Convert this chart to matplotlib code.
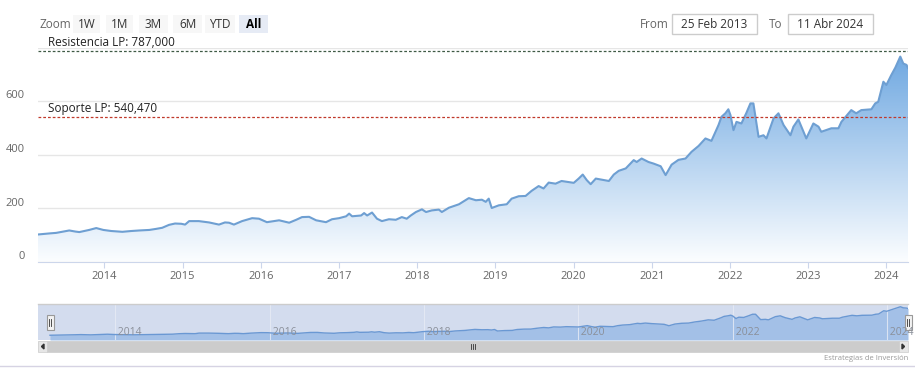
import numpy as np
import matplotlib
matplotlib.use("Agg")
import matplotlib.pyplot as plt
import matplotlib.dates as mdates
import matplotlib.transforms as mtrans
from matplotlib.colors import LinearSegmentedColormap
from matplotlib.patches import Rectangle, Polygon
from matplotlib.lines import Line2D

plt.rcParams['font.family'] = ['Open Sans', 'DejaVu Sans']

# price series
dates = np.array([
    '2013-02-25', '2013-03-22', '2013-04-20', '2013-05-21', '2013-06-23', '2013-07-21',
    '2013-08-18', '2013-09-06', '2013-10-22', '2013-11-24', '2013-12-27', '2014-02-02',
    '2014-03-26', '2014-05-07', '2014-06-13', '2014-07-30', '2014-08-31', '2014-09-28',
    '2014-10-30', '2014-11-27', '2014-12-26', '2015-01-13', '2015-02-01', '2015-03-18',
    '2015-05-05', '2015-06-20', '2015-07-18', '2015-08-06', '2015-08-29', '2015-10-06',
    '2015-11-22', '2015-12-24', '2016-01-30', '2016-03-27', '2016-05-13', '2016-06-15',
    '2016-07-12', '2016-08-14', '2016-09-16', '2016-11-01', '2016-11-29', '2017-01-01',
    '2017-02-03', '2017-02-17', '2017-03-03', '2017-04-14', '2017-04-28', '2017-05-12',
    '2017-06-04', '2017-06-27', '2017-07-20', '2017-08-22', '2017-09-23', '2017-10-21',
    '2017-11-13', '2017-12-02', '2017-12-26', '2018-01-23', '2018-02-11', '2018-03-10',
    '2018-04-12', '2018-04-26', '2018-05-29', '2018-07-15', '2018-08-30', '2018-10-02',
    '2018-10-30', '2018-11-17', '2018-12-01', '2018-12-15', '2019-01-17', '2019-02-23',
    '2019-03-18', '2019-04-20', '2019-05-22', '2019-06-19', '2019-07-22', '2019-08-14',
    '2019-09-07', '2019-10-09', '2019-11-06', '2019-12-09', '2020-01-02', '2020-01-25',
    '2020-02-13', '2020-03-03', '2020-03-21', '2020-04-14', '2020-05-12', '2020-06-14',
    '2020-07-07', '2020-07-30', '2020-09-01', '2020-10-08', '2020-10-22', '2020-11-14',
    '2020-12-16', '2021-01-09', '2021-02-11', '2021-03-06', '2021-04-03', '2021-05-05',
    '2021-06-07', '2021-07-05', '2021-08-07', '2021-09-08', '2021-10-06', '2021-11-08',
    '2021-11-22', '2021-12-10', '2021-12-24', '2022-01-03', '2022-01-17', '2022-01-31',
    '2022-02-23', '2022-03-18', '2022-04-06', '2022-04-20', '2022-05-14', '2022-06-06',
    '2022-06-20', '2022-07-23', '2022-08-15', '2022-09-08', '2022-10-10', '2022-10-24',
    '2022-11-16', '2022-11-30', '2022-12-23', '2023-01-25', '2023-02-18', '2023-03-03',
    '2023-04-19', '2023-05-22', '2023-06-05', '2023-07-21', '2023-08-13', '2023-09-06',
    '2023-10-23', '2023-11-10', '2023-11-24', '2023-12-18', '2024-01-01', '2024-01-24',
    '2024-02-12', '2024-03-06', '2024-03-20', '2024-04-04', '2024-04-11'], dtype='datetime64[D]')
values = np.array([
    101, 103, 105, 107, 112, 116,
    112, 110, 118, 125, 118, 114,
    111, 114, 116, 118, 122, 126,
    137, 142, 141, 138, 151, 151,
    146, 138, 146, 145, 138, 151,
    162, 160, 147, 154, 145, 156,
    166, 167, 154, 147, 158, 162,
    169, 179, 169, 172, 181, 172,
    183, 160, 151, 158, 156, 166,
    160, 172, 185, 195, 185, 191,
    194, 185, 201, 214, 237, 229,
    231, 223, 235, 200, 210, 214,
    235, 244, 245, 264, 282, 273,
    295, 291, 301, 297, 294, 310,
    325, 304, 289, 310, 306, 301,
    325, 339, 348, 379, 372, 385,
    372, 366, 356, 323, 362, 380,
    385, 410, 432, 460, 451, 510,
    541, 554, 569, 547, 491, 522,
    516, 555, 591, 591, 466, 472,
    460, 535, 554, 510, 472, 504,
    531, 504, 460, 516, 504, 485,
    498, 498, 522, 566, 554, 566,
    569, 591, 597, 672, 660, 697,
    725, 766, 740, 735, 723])

resistance = 787.0
support = 540.47
resistance_label = 'Resistencia LP: 787,000'
support_label = 'Soporte LP: 540,470'
y_ticks = [0, 200, 400, 600, 800]
x_years = list(range(2014, 2025))
nav_years = list(range(2014, 2025, 2))
zoom_buttons = ['1W', '1M', '3M', '6M', 'YTD', 'All']
from_text = '25 Feb 2013'
to_text = '11 Abr 2024'

W, H = 915, 385
fig = plt.figure(figsize=(W / 100, H / 100), dpi=100)
fig.patch.set_facecolor('white')


def fx(x):
    return x / W


def fy(y):
    return 1 - y / H


def box(x0, y0, x1, y1, **kw):
    r = Rectangle((fx(x0), fy(y1)), (x1 - x0) / W, (y1 - y0) / H,
                  transform=fig.transFigure, **kw)
    fig.add_artist(r)
    return r


def hline(x0, x1, y, **kw):
    fig.add_artist(Line2D([fx(x0), fx(x1)], [fy(y), fy(y)], transform=fig.transFigure, **kw))


def vline(x, y0, y1, **kw):
    fig.add_artist(Line2D([fx(x), fx(x)], [fy(y0), fy(y1)], transform=fig.transFigure, **kw))


# ---- range selector
fig.text(fx(39), fy(24), 'Zoom', fontsize=8.5, color='#666666', va='center', ha='left')
btn_x = [(73, 100), (106, 133), (139, 168), (173, 202), (205, 235), (239, 268)]
for lab, (a, b) in zip(zoom_buttons, btn_x):
    sel = lab == 'All'
    box(a, 15, b, 33, facecolor='#e6ebf5' if sel else '#f7f7f7', edgecolor='none')
    fig.text(fx((a + b) / 2), fy(24), lab, fontsize=8.5, ha='center', va='center',
             color='#000000' if sel else '#333333', fontweight='bold' if sel else 'normal')

fig.text(fx(640), fy(24), 'From', fontsize=8.5, color='#666666', va='center', ha='left')
box(672, 14, 757, 34, facecolor='white', edgecolor='#cccccc', lw=1)
fig.text(fx(714.5), fy(24), from_text, fontsize=8.5, color='#333333', va='center', ha='center')
fig.text(fx(769), fy(24), 'To', fontsize=8.5, color='#666666', va='center', ha='left')
box(788, 14, 873, 34, facecolor='white', edgecolor='#cccccc', lw=1)
fig.text(fx(830.5), fy(24), to_text, fontsize=8.5, color='#333333', va='center', ha='center')

# ---- main chart
top, bottom = 47.5, 261.5
ax = fig.add_axes([fx(38), fy(bottom), (908 - 38) / W, (bottom - top) / H])
xnum = mdates.date2num(dates)
area = ax.fill_between(dates, values, 0, color='none', lw=0)
cmap = LinearSegmentedColormap.from_list('area', ['#fbfdff', '#6aa5e0'])
grad = np.linspace(0, 1, 256).reshape(-1, 1)
im = ax.imshow(grad, extent=[xnum[0], xnum[-1], 0, 800], origin='lower', cmap=cmap,
               aspect='auto', zorder=1, interpolation='bicubic')
im.set_clip_path(area.get_paths()[0], transform=ax.transData)
ax.plot(dates, values, color='#6e9fd2', lw=1.5, zorder=3)

ax.axhline(resistance, color='#3f5a45', ls=(0, (2.2, 1.6)), lw=0.9, zorder=4)
ax.axhline(support, color='#c0392b', ls=(0, (2.2, 1.6)), lw=0.9, zorder=4)
lab_tr = mtrans.offset_copy(ax.get_yaxis_transform(), fig=fig, x=0, y=2, units='dots')
ax.text((48 - 38) / 870, resistance, resistance_label, transform=lab_tr, fontsize=8.5,
        color='#222222', va='bottom', ha='left', zorder=5)
ax.text((48 - 38) / 870, support, support_label, transform=lab_tr, fontsize=8.5,
        color='#222222', va='bottom', ha='left', zorder=5)

ax.set_xlim(xnum[0], xnum[-1])
ax.set_ylim(0, 800)
ax.set_yticks(y_ticks)
ax.set_yticklabels([])
ax.tick_params(axis='y', length=0)
ytr = mtrans.offset_copy(ax.get_yaxis_transform(), fig=fig, x=-13, y=5, units='dots')
for v in y_ticks[:-1]:
    ax.text(0, v, str(v), transform=ytr, ha='right', va='center', fontsize=8, color='#666666')
ax.grid(axis='y', color='#e6e6e6', lw=1, zorder=0)
ax.set_axisbelow(True)
for s in ['top', 'right', 'left']:
    ax.spines[s].set_visible(False)
ax.spines['bottom'].set_color('#ccd6eb')
ax.set_xticks([mdates.datestr2num(f'{y}-01-01') for y in x_years])
ax.set_xticklabels([str(y) for y in x_years])
ax.tick_params(axis='x', length=4, color='#ccd6eb', labelsize=8, labelcolor='#666666', pad=3)

# ---- navigator
nav = fig.add_axes([fx(38), fy(340), (908 - 38) / W, (340 - 304) / H])
span = (xnum[-1] - xnum[0]) / (908 - 50)
nav.set_xlim(xnum[0] - 12 * span, xnum[-1])
nav.set_ylim(-10, 830)
nav.set_facecolor('#d3dcee')
nav.fill_between(dates, values, -10, color='#a3c0e7', lw=0, zorder=2)
nav.plot(dates, values, color='#6a98d3', lw=1, zorder=3)
for y in nav_years:
    xv = mdates.datestr2num(f'{y}-01-01')
    nav.axvline(xv, color='#e8ecf5', lw=0.8, alpha=0.8, zorder=2.5)
    # figure-level text so it sits above the navigator handles
    fig.text(xv, 0.22, f' {y}', transform=nav.get_xaxis_transform(), fontsize=7.5,
             color='#8a8f99', ha='left', va='center', zorder=5)
nav.set_xticks([])
nav.set_yticks([])
for s in nav.spines.values():
    s.set_visible(False)
hline(38, 908, 304, color='#cccccc', lw=1)

# handles
for hx in (50, 908):
    box(hx - 3.5, 315, hx + 3.5, 330, facecolor='#f2f2f2', edgecolor='#999999', lw=0.8)
    vline(hx - 1, 319, 326, color='#333333', lw=0.6)
    vline(hx + 1, 319, 326, color='#333333', lw=0.6)

# scrollbar
box(38, 341, 908, 352, facecolor='#f2f2f2', edgecolor='none')
box(47, 341, 899, 352, facecolor='#cccccc', edgecolor='#cccccc', lw=0.5)
box(38, 341, 47, 352, facecolor='#e6e6e6', edgecolor='#cccccc', lw=0.5)
box(899, 341, 908, 352, facecolor='#e6e6e6', edgecolor='#cccccc', lw=0.5)
fig.add_artist(Polygon([[fx(44), fy(344)], [fx(44), fy(349)], [fx(41.5), fy(346.5)]],
                       closed=True, transform=fig.transFigure, color='#333333'))
fig.add_artist(Polygon([[fx(902), fy(344)], [fx(902), fy(349)], [fx(904.5), fy(346.5)]],
                       closed=True, transform=fig.transFigure, color='#333333'))
for gx in (471, 473, 475):
    vline(gx, 344, 349, color='#333333', lw=0.6)

fig.text(fx(908), fy(358), 'Estrategias de Inversión', fontsize=5.5, color='#999999',
         ha='right', va='center')
hline(0, 915, 366, color='#d6d3e3', lw=1)

fig.savefig('out.png', dpi=100)
